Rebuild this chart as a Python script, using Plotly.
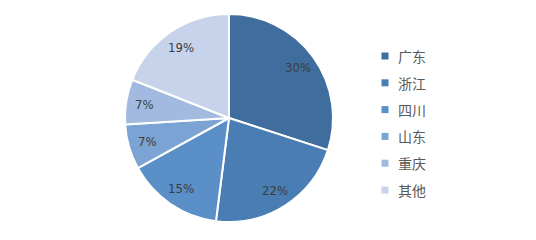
import math
import plotly.graph_objects as go

W, H = 536, 240
categories = ["广东", "浙江", "四川", "山东", "重庆", "其他"]
values = [30, 22, 15, 7, 7, 19]
colors = ["#3f6e9e", "#4a7db3", "#5a8fc7", "#7ba3d3", "#a2badf", "#c7d3ea"]

cx, cy, r = 229, 118, 104

fig = go.Figure(go.Pie(
    labels=categories, values=values, sort=False, direction="clockwise", rotation=0,
    marker=dict(colors=colors, line=dict(color="white", width=2)),
    textinfo="none", showlegend=False, hoverinfo="label+value",
    domain=dict(x=[(cx - r) / W, (cx + r) / W], y=[(H - cy - r) / H, (H - cy + r) / H]),
))

shapes, annotations = [], []
# data labels placed along each slice's mid-angle
total = sum(values)
cum = 0
for v in values:
    a = 2 * math.pi * (cum + v / 2) / total
    cum += v
    rr = 0.82 * r
    x = cx + rr * math.sin(a)
    y = cy - rr * math.cos(a)
    annotations.append(dict(text=f"{v}%", xref="paper", yref="paper", x=x / W, y=1 - y / H,
                            xanchor="center", yanchor="middle", showarrow=False,
                            font=dict(family="Liberation Sans Narrow, DejaVu Sans Condensed", size=13,
                                      color="#3d3d3d")))

lx, ly0, dy, sq = 385, 56, 26.8, 7
for i, (cat, col) in enumerate(zip(categories, colors)):
    y = ly0 + i * dy
    shapes.append(dict(type="rect", xref="paper", yref="paper",
                       x0=(lx - sq / 2) / W, x1=(lx + sq / 2) / W,
                       y0=1 - (y + sq / 2) / H, y1=1 - (y - sq / 2) / H,
                       fillcolor=col, line=dict(width=0)))
    annotations.append(dict(text=cat, xref="paper", yref="paper", x=(lx + 11) / W, y=1 - y / H,
                            xanchor="left", yanchor="middle", showarrow=False,
                            font=dict(family="Noto Sans CJK SC", size=14, color="#595959")))

fig.update_layout(width=W, height=H, margin=dict(l=0, r=0, t=0, b=0),
                  paper_bgcolor="white", plot_bgcolor="white",
                  shapes=shapes, annotations=annotations)
fig.write_html("out.html")
